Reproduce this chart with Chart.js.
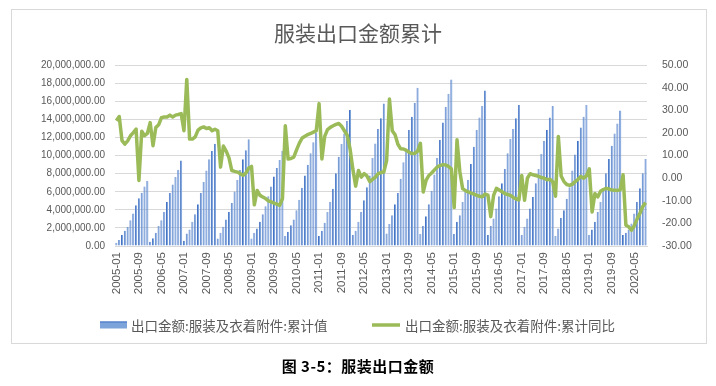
<!DOCTYPE html>
<html><head><meta charset="utf-8">
<script src="https://cdn.jsdelivr.net/npm/chart.js@4"></script>
<style>
html,body{margin:0;padding:0;background:#fff;}
#wrap{position:relative;width:716px;height:386px;overflow:hidden;}
#frame{position:absolute;left:11px;top:9px;width:696px;height:335px;border:1px solid #D9D9D9;box-sizing:border-box;}
#c{position:absolute;left:0;top:0;}
#cap{position:absolute;left:0;top:355px;width:716px;text-align:center;font:bold 15px "Noto Sans CJK SC";color:#000;letter-spacing:0.5px;}
</style></head><body>
<div id="wrap"><div id="frame"></div><canvas id="c" width="716" height="386"></canvas><div id="cap">图 3-5：服装出口金额</div></div>
<script>
const titleText = '服装出口金额累计';
const seriesNames = ['出口金额:服装及衣着附件:累计值', '出口金额:服装及衣着附件:累计同比'];
const years = [2005,2006,2007,2008,2009,2010,2011,2012,2013,2014,2015,2016,2017,2018,2019,2020];
const monthsInLastYear = 9;
const categories = [];
years.forEach(y => {
  const n = y === 2020 ? monthsInLastYear : 12;
  for (let m = 1; m <= n; m++) categories.push(y + '-' + String(m).padStart(2, '0'));
});
const exportCum = [
360000,660000,1210000,1680000,2120000,2860000,3590000,4510000,5270000,5900000,6590000,7180000,
470000,850000,1460000,2200000,2860000,3770000,4870000,5860000,6810000,7620000,8430000,9450000,
580000,1380000,1830000,2670000,3520000,4620000,5870000,7070000,8350000,9600000,10500000,11300000,
840000,1460000,2120000,2920000,3770000,4750000,6030000,7310000,8420000,9590000,10600000,11800000,
840000,1460000,1940000,2670000,3520000,4400000,5490000,6590000,7690000,8640000,9520000,10550000,
1100000,1570000,2300000,2920000,3950000,5120000,6440000,7800000,9000000,10260000,11470000,12560000,
1100000,1690000,2560000,3770000,4870000,6330000,8050000,9880000,11280000,12450000,13850000,15050000,
1210000,1690000,2670000,3770000,5050000,6510000,7800000,9740000,11350000,12930000,14140000,15750000,
1390000,2420000,3410000,4620000,5870000,7440000,9270000,10740000,12820000,14290000,15860000,17500000,
1320000,2200000,3300000,4620000,6100000,7900000,9740000,11720000,13660000,15380000,16850000,18420000,
1320000,2670000,3410000,4870000,5980000,7330000,9080000,10990000,12820000,14210000,15490000,17200000,
1210000,2200000,3040000,4140000,5490000,6950000,8530000,10260000,11830000,12930000,14140000,15600000,
1210000,2120000,3040000,4140000,5420000,6950000,8530000,10180000,11650000,12820000,14210000,15490000,
1100000,1940000,3100000,3950000,5230000,6510000,8350000,10110000,11650000,13110000,14290000,15600000,
1210000,1830000,2670000,3770000,4870000,6330000,8050000,9630000,11100000,12450000,13550000,14980000,
1210000,1460000,1830000,2490000,3590000,4870000,6400000,8050000,9630000
];
const yoyCum = [
25.4,27.3,16.6,15.1,16.5,18.8,20.2,21.7,-1.0,20.8,18.8,19.8,
24.6,14.4,22.4,23.6,26.8,27.1,27.1,27.9,27.1,27.9,28.2,28.6,
21.0,43.7,17.3,17.3,18.3,21.3,22.3,22.7,22.0,22.3,21.0,21.7,
21.0,4.9,14.2,12.0,9.0,3.4,3.0,2.7,2.0,1.3,2.3,4.5,
5.2,-11.8,-5.4,-7.6,-8.3,-9.0,-10.0,-10.5,-11.0,-11.5,-12.0,-9.0,
23.2,8.5,8.7,9.3,12.5,15.5,17.8,18.6,19.3,19.8,20.4,21.0,
33.0,8.5,18.5,21.5,22.5,23.2,23.8,24.2,23.0,21.0,19.0,13.0,
4.0,-3.5,3.4,0.5,2.0,1.0,-1.5,-0.5,0.5,2.0,2.5,2.7,
7.8,35.0,21.0,19.2,15.0,13.0,12.9,12.3,11.5,10.9,11.0,12.0,
15.4,-6.1,-1.0,1.2,2.3,3.7,5.0,5.6,6.0,5.8,5.2,4.1,
-13.0,17.0,3.0,-4.6,-5.5,-6.1,-6.6,-7.0,-7.6,-8.0,-8.2,-7.0,
-7.5,-17.0,-7.6,-4.5,-5.2,-6.0,-6.8,-7.2,-7.6,-8.5,-9.2,-9.6,
1.2,-9.8,0.0,2.0,1.5,1.2,0.8,0.3,0.0,-0.7,-0.5,-1.5,
-8.0,18.5,1.0,-1.5,-2.8,-3.2,-2.6,-1.5,-0.5,0.8,0.0,1.0,
4.1,-15.0,-6.8,-8.3,-5.8,-5.0,-4.5,-4.8,-5.2,-5.3,-5.4,-5.1,
1.5,-20.8,-21.5,-23.0,-21.0,-18.0,-15.5,-12.5,-10.8
];
const leftTicks = {min:0, max:20000000, step:2000000};
const rightTicks = {min:-30, max:50, step:10};
const labelEvery = 8;

const fmtL = new Intl.NumberFormat('en-US',{minimumFractionDigits:2,maximumFractionDigits:2});
const txt = '#595959';
const barFill = '#7DA3DB', barEdge = '#4472C4', lineColor = '#9BBB59';

const customLegend = {
  id:'customLegend',
  afterDraw(chart){
    const ctx = chart.ctx;
    const ds = chart.data.datasets;
    ctx.save();
    ctx.font = '13.5px "Noto Sans CJK SC"';
    ctx.textBaseline = 'middle';
    const y = 325;
    ctx.fillStyle = barFill; ctx.fillRect(100, y - 3.5, 27, 7);
    ctx.fillStyle = barEdge; ctx.fillRect(100, y - 3.5, 27, 1);
    ctx.fillStyle = txt; ctx.fillText(ds[0].label, 131, y + 0.5);
    ctx.strokeStyle = lineColor; ctx.lineWidth = 3.5; ctx.beginPath(); ctx.moveTo(372, y); ctx.lineTo(400, y); ctx.stroke();
    ctx.fillText(ds[1].label, 405, y + 0.5);
    ctx.restore();
  }
};

new Chart(document.getElementById('c'), {
  data: {
    labels: categories,
    datasets: [
      {type:'bar', label:seriesNames[0], data:exportCum, yAxisID:'y', order:1,
       backgroundColor:barFill, borderColor:barEdge, borderWidth:{left:1,right:0,top:0,bottom:0},
       barPercentage:0.75, categoryPercentage:1.0},
      {type:'line', label:seriesNames[1], data:yoyCum, yAxisID:'y1', order:0,
       borderColor:lineColor, backgroundColor:lineColor, borderWidth:3.5, pointRadius:0, tension:0,
       borderJoinStyle:'round'}
    ]
  },
  plugins:[customLegend],
  options: {
    responsive:false, animation:false, devicePixelRatio:1,
    layout:{padding:{top:20,left:0,right:0,bottom:80}},
    plugins:{
      title:{display:true,text:titleText,color:txt,font:{family:'Noto Sans CJK SC',size:21,weight:'normal'},padding:{top:0,bottom:20}},
      legend:{display:false},
      tooltip:{enabled:false}
    },
    scales:{
      x:{grid:{display:false,drawTicks:false},border:{color:'#D9D9D9'},
         ticks:{autoSkip:false,maxRotation:90,minRotation:90,padding:6,color:txt,font:{family:'Liberation Sans',size:11.5},
           callback:function(v,i){return i%labelEvery===0?this.getLabelForValue(v):'';}},
         afterFit:s=>{s.height=60;}},
      y:{position:'left',min:leftTicks.min,max:leftTicks.max,
         ticks:{stepSize:leftTicks.step,padding:10,color:txt,font:{family:'Liberation Sans',size:10},callback:v=>fmtL.format(v)},
         grid:{color:'#D9D9D9',drawTicks:false},border:{display:false},afterFit:s=>{s.width=115;}},
      y1:{position:'right',min:rightTicks.min,max:rightTicks.max,
         ticks:{stepSize:rightTicks.step,padding:15,color:txt,font:{family:'Liberation Sans',size:10.5},callback:v=>v.toFixed(2)},
         grid:{display:false,drawTicks:false},border:{display:false},afterFit:s=>{s.width=69;}}
    }
  }
});
</script>
</body></html>
